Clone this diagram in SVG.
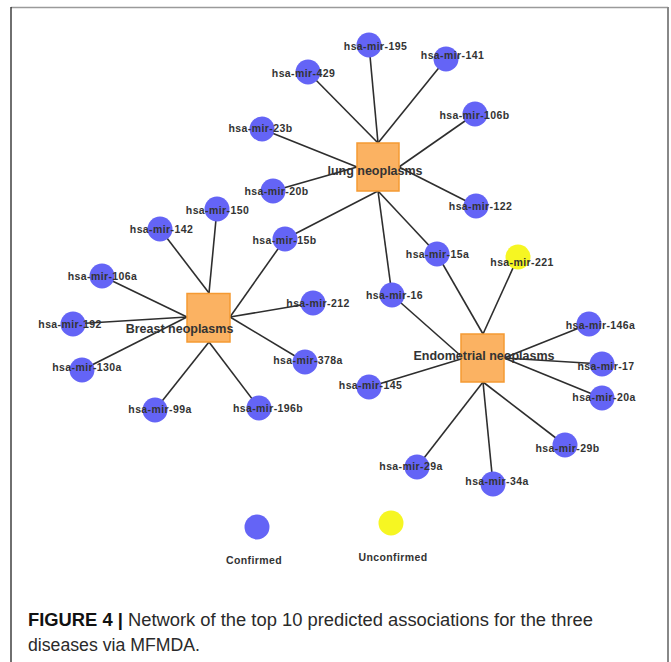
<svg xmlns="http://www.w3.org/2000/svg" width="671" height="662" viewBox="0 0 671 662">
<style>
.mi{fill:#6464f6}
.un{fill:#f6f622}
.dz{fill:#fbb262;stroke:#f59a33;stroke-width:1.5}
.lb{font-family:"Liberation Sans",Arial,sans-serif;font-weight:bold;font-size:10.5px;letter-spacing:0.4px;fill:#333;text-anchor:middle}
.dl{font-family:"Liberation Sans",Arial,sans-serif;font-weight:bold;font-size:12.5px;fill:#333;text-anchor:middle}
.cap{font-family:"Liberation Sans",Arial,sans-serif;font-size:17.5px;fill:#2a2a2a}
#edges line{stroke:#2e2e2e;stroke-width:1.6}
</style>
<rect width="671" height="662" fill="#fff"/>
<g id="frame">
<line x1="11" y1="7.5" x2="668" y2="7.5" stroke="#9a9a9a" stroke-width="1.5"/>
<line x1="11" y1="7" x2="11" y2="662" stroke="#222" stroke-width="1.3"/>
<line x1="668" y1="7" x2="668" y2="662" stroke="#888" stroke-width="2"/>
</g>
<g id="edges">
<line x1="369" y1="45" x2="378" y2="143"/>
<line x1="308" y1="72" x2="378" y2="143"/>
<line x1="446" y1="59" x2="378" y2="143"/>
<line x1="475" y1="114" x2="399" y2="167"/>
<line x1="476" y1="206" x2="399" y2="167"/>
<line x1="262" y1="129" x2="357" y2="167"/>
<line x1="273" y1="191" x2="357" y2="167"/>
<line x1="285" y1="239" x2="378" y2="191"/>
<line x1="392" y1="295" x2="378" y2="191"/>
<line x1="437" y1="254" x2="378" y2="191"/>
<line x1="217" y1="209" x2="209" y2="293"/>
<line x1="160" y1="229" x2="209" y2="293"/>
<line x1="102" y1="276" x2="187" y2="317"/>
<line x1="73" y1="324" x2="187" y2="317"/>
<line x1="82" y1="370" x2="187" y2="317"/>
<line x1="285" y1="239" x2="230" y2="317"/>
<line x1="313" y1="303" x2="230" y2="317"/>
<line x1="305" y1="362" x2="230" y2="317"/>
<line x1="155" y1="410" x2="209" y2="342"/>
<line x1="259" y1="408" x2="209" y2="342"/>
<line x1="437" y1="254" x2="483" y2="334"/>
<line x1="518" y1="257" x2="483" y2="334"/>
<line x1="392" y1="295" x2="461" y2="356"/>
<line x1="369" y1="387" x2="461" y2="359"/>
<line x1="589" y1="324" x2="504" y2="358"/>
<line x1="602" y1="364" x2="504" y2="358"/>
<line x1="602" y1="398" x2="504" y2="358"/>
<line x1="565" y1="445" x2="483" y2="382"/>
<line x1="493" y1="484" x2="483" y2="382"/>
<line x1="417" y1="467" x2="483" y2="382"/>
</g>
<g id="lung-neoplasms"><rect class="dz" x="357" y="143" width="42" height="48"/><text class="dl" x="375" y="174.5">lung neoplasms</text></g>
<g id="breast-neoplasms"><rect class="dz" x="187" y="293.5" width="43" height="48.5"/><text class="dl" x="179.5" y="332.5">Breast neoplasms</text></g>
<g id="endometrial-neoplasms"><rect class="dz" x="461" y="334" width="43" height="48"/><text class="dl" x="484" y="359.5">Endometrial neoplasms</text></g>
<g id="mir-195"><circle class="mi" cx="369" cy="45" r="12.5"/><text class="lb" x="375.5" y="49.5">hsa-mir-195</text></g>
<g id="mir-141"><circle class="mi" cx="446" cy="59" r="12.5"/><text class="lb" x="452.5" y="59">hsa-mir-141</text></g>
<g id="mir-429"><circle class="mi" cx="308" cy="72" r="12.5"/><text class="lb" x="303.5" y="76.5">hsa-mir-429</text></g>
<g id="mir-106b"><circle class="mi" cx="475" cy="114" r="12.5"/><text class="lb" x="474.5" y="118.5">hsa-mir-106b</text></g>
<g id="mir-23b"><circle class="mi" cx="262" cy="129" r="12.5"/><text class="lb" x="260.5" y="132">hsa-mir-23b</text></g>
<g id="mir-20b"><circle class="mi" cx="273" cy="191" r="12.5"/><text class="lb" x="276.5" y="194.5">hsa-mir-20b</text></g>
<g id="mir-122"><circle class="mi" cx="476" cy="206" r="12.5"/><text class="lb" x="480.5" y="209.5">hsa-mir-122</text></g>
<g id="mir-150"><circle class="mi" cx="217" cy="209" r="12.5"/><text class="lb" x="217.5" y="213.5">hsa-mir-150</text></g>
<g id="mir-142"><circle class="mi" cx="160" cy="229" r="12.5"/><text class="lb" x="161.5" y="232.5">hsa-mir-142</text></g>
<g id="mir-15b"><circle class="mi" cx="285" cy="239" r="12.5"/><text class="lb" x="284.5" y="243.5">hsa-mir-15b</text></g>
<g id="mir-106a"><circle class="mi" cx="102" cy="276" r="12.5"/><text class="lb" x="102.5" y="279.5">hsa-mir-106a</text></g>
<g id="mir-212"><circle class="mi" cx="313" cy="303" r="12.5"/><text class="lb" x="318" y="306.5">hsa-mir-212</text></g>
<g id="mir-192"><circle class="mi" cx="73" cy="324" r="12.5"/><text class="lb" x="70" y="327.5">hsa-mir-192</text></g>
<g id="mir-130a"><circle class="mi" cx="82" cy="370" r="12.5"/><text class="lb" x="87" y="370.5">hsa-mir-130a</text></g>
<g id="mir-378a"><circle class="mi" cx="305" cy="362" r="12.5"/><text class="lb" x="308" y="363.5">hsa-mir-378a</text></g>
<g id="mir-99a"><circle class="mi" cx="155" cy="410" r="12.5"/><text class="lb" x="160" y="412.5">hsa-mir-99a</text></g>
<g id="mir-196b"><circle class="mi" cx="259" cy="408" r="12.5"/><text class="lb" x="268" y="411.5">hsa-mir-196b</text></g>
<g id="mir-15a"><circle class="mi" cx="437" cy="254" r="12.5"/><text class="lb" x="437.5" y="257.5">hsa-mir-15a</text></g>
<g id="mir-221"><circle class="un" cx="518" cy="257" r="12.5"/><text class="lb" x="522" y="265.5">hsa-mir-221</text></g>
<g id="mir-16"><circle class="mi" cx="392" cy="295" r="12.5"/><text class="lb" x="394.5" y="298.5">hsa-mir-16</text></g>
<g id="mir-146a"><circle class="mi" cx="589" cy="324" r="12.5"/><text class="lb" x="600.5" y="328.5">hsa-mir-146a</text></g>
<g id="mir-17"><circle class="mi" cx="602" cy="364" r="12.5"/><text class="lb" x="606" y="369.5">hsa-mir-17</text></g>
<g id="mir-145"><circle class="mi" cx="369" cy="387" r="12.5"/><text class="lb" x="370.5" y="388.5">hsa-mir-145</text></g>
<g id="mir-20a"><circle class="mi" cx="602" cy="398" r="12.5"/><text class="lb" x="604" y="400.5">hsa-mir-20a</text></g>
<g id="mir-29b"><circle class="mi" cx="565" cy="445" r="12.5"/><text class="lb" x="567.5" y="451.5">hsa-mir-29b</text></g>
<g id="mir-29a"><circle class="mi" cx="417" cy="467" r="12.5"/><text class="lb" x="411" y="469.5">hsa-mir-29a</text></g>
<g id="mir-34a"><circle class="mi" cx="493" cy="484" r="12.5"/><text class="lb" x="497" y="484.5">hsa-mir-34a</text></g>
<g id="legend">
<circle class="mi" cx="257" cy="527" r="12.5"/>
<text class="lb" x="254" y="563.5">Confirmed</text>
<circle class="un" cx="391" cy="523" r="12.5"/>
<text class="lb" x="393" y="560.5">Unconfirmed</text>
</g>
<g id="caption">
<text class="cap" x="28" y="626" textLength="565" lengthAdjust="spacingAndGlyphs"><tspan font-weight="bold" fill="#111">FIGURE 4 |</tspan> Network of the top 10 predicted associations for the three</text>
<text class="cap" x="28" y="651" textLength="172" lengthAdjust="spacingAndGlyphs">diseases via MFMDA.</text>
</g>
</svg>
